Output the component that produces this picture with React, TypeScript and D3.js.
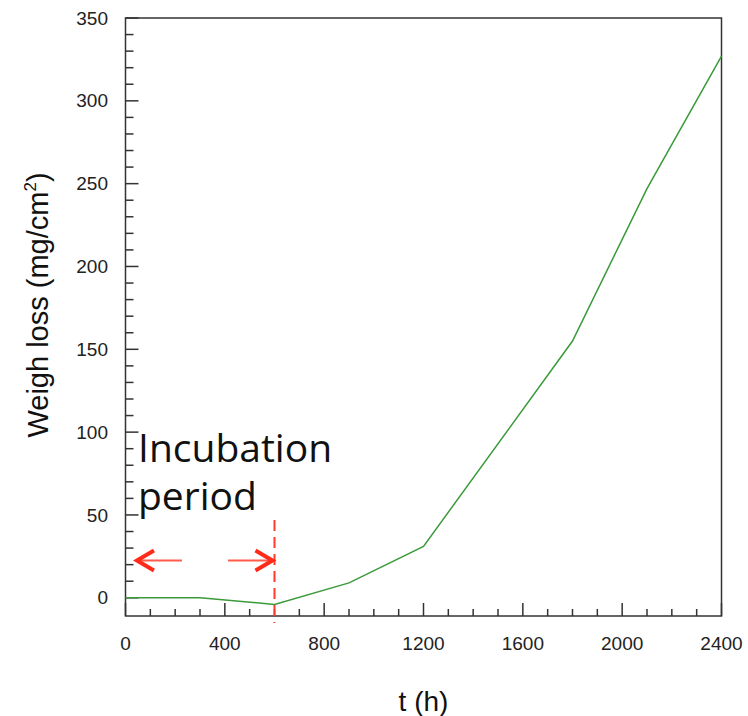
import * as d3 from "d3";

// weight loss vs exposure time
const times = [0, 300, 600, 900, 1200, 1800, 2100, 2400];
const loss = [0, 0, -4, 9, 31, 155, 247, 327];

const xMajor = [0, 400, 800, 1200, 1600, 2000, 2400];
const xMinor = d3.range(100, 2400, 100).filter(v => v % 400 !== 0);
const yMajor = [0, 50, 100, 150, 200, 250, 300, 350];
const yMinor = d3.range(10, 350, 10).filter(v => v % 50 !== 0);

const incubationEnd = 600;
const arrowLevel = 22.5;
const leftArrow = [227, 38];
const rightArrow = [413, 600];
const noteLines = ["Incubation", "period"];

export default function App() {
  const W = 748;
  const H = 716;
  const x = d3.scaleLinear([0, 2400], [125.5, 721.5]);
  const y = d3.scaleLinear([-11, 350], [616, 18]);

  const line = d3.line<number>()
    .x((_, i) => x(times[i]))
    .y(d => y(d));

  const axisColor = "#333";
  const tickFont = "'Liberation Sans', Arial, sans-serif";

  const arrow = (from: number, to: number) => {
    const dir = Math.sign(to - from);
    const tx = x(to);
    const ty = y(arrowLevel);
    return (
      <g>
        <line x1={x(from)} x2={tx - dir * 4} y1={ty} y2={ty} stroke="#ff5a4a" strokeWidth={2} />
        <path
          d={`M${tx - dir * 19},${ty - 10} L${tx - dir * 2},${ty} L${tx - dir * 19},${ty + 10}`}
          fill="none"
          stroke="#ff2a1a"
          strokeWidth={4}
        />
      </g>
    );
  };

  return (
    <svg width={W} height={H} style={{ position: "absolute", left: 0, top: 0, background: "#fff" }}>
      {/* frame */}
      <rect x={x(0)} y={y(350)} width={x(2400) - x(0)} height={y(-11) - y(350)}
        fill="none" stroke={axisColor} strokeWidth={1.5} />

      {/* x ticks */}
      {xMajor.map(v => (
        <line key={"xM" + v} x1={x(v)} x2={x(v)} y1={y(-11)} y2={y(-11) - 13} stroke={axisColor} strokeWidth={1.5} />
      ))}
      {xMinor.map(v => (
        <line key={"xm" + v} x1={x(v)} x2={x(v)} y1={y(-11)} y2={y(-11) - 7} stroke={axisColor} strokeWidth={1.5} />
      ))}
      {xMajor.map(v => (
        <text key={"xl" + v} x={x(v)} y={650} textAnchor="middle" fontFamily={tickFont} fontSize={19} fill="#222">{v}</text>
      ))}

      {/* y ticks */}
      {yMajor.map(v => (
        <line key={"yM" + v} x1={x(0)} x2={x(0) + 13} y1={y(v)} y2={y(v)} stroke={axisColor} strokeWidth={1.5} />
      ))}
      {yMinor.map(v => (
        <line key={"ym" + v} x1={x(0)} x2={x(0) + 8} y1={y(v)} y2={y(v)} stroke={axisColor} strokeWidth={1.5} />
      ))}
      {yMajor.map(v => (
        <text key={"yl" + v} x={108} y={y(v)} dy="0.35em" textAnchor="end" fontFamily={tickFont} fontSize={19} fill="#222">{v}</text>
      ))}

      {/* axis titles */}
      <text x={x(1200)} y={711} textAnchor="middle" fontFamily={tickFont} fontSize={28} fill="#111">t (h)</text>
      <text transform={`translate(48,305) rotate(-90)`} textAnchor="middle" fontFamily={tickFont} fontSize={29} fill="#111">
        Weigh loss (mg/cm<tspan fontSize={17} dy={-12}>2</tspan><tspan dy={12}>)</tspan>
      </text>

      {/* data */}
      <path d={line(loss) ?? ""} fill="none" stroke="#3a9a3a" strokeWidth={1.5} />

      {/* incubation annotation */}
      <line x1={x(incubationEnd)} x2={x(incubationEnd)} y1={520} y2={623}
        stroke="#ff3a2a" strokeWidth={2} strokeDasharray="11,6" />
      {arrow(leftArrow[0], leftArrow[1])}
      {arrow(rightArrow[0], rightArrow[1])}
      {noteLines.map((t, i) => (
        <text key={t} x={138} y={462 + i * 48} fontFamily="'Open Sans', sans-serif" fontSize={39} fill="#111">{t}</text>
      ))}
    </svg>
  );
}
